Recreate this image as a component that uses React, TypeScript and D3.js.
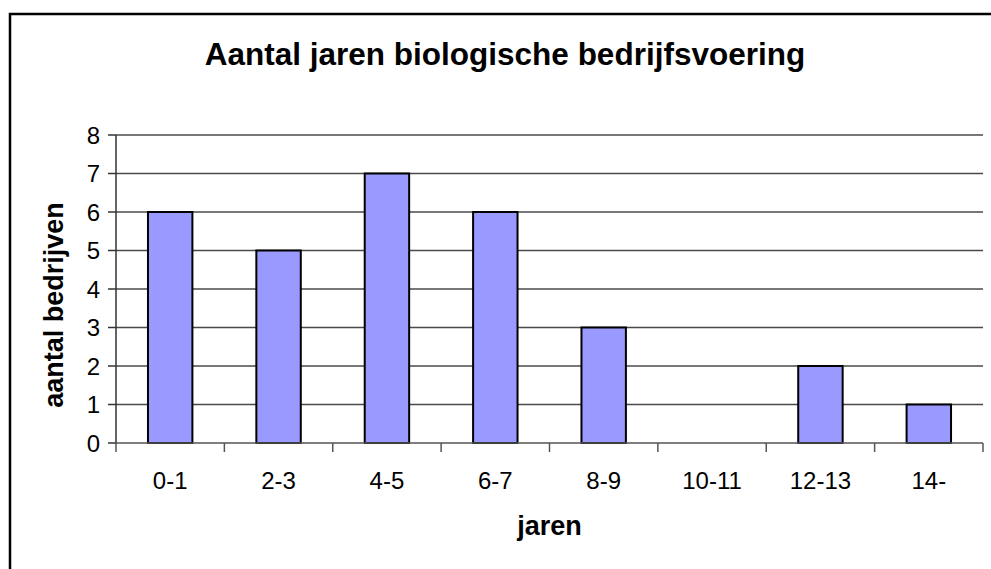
import React from 'react';
import * as d3 from 'd3';

// chart data
const categories = ['0-1', '2-3', '4-5', '6-7', '8-9', '10-11', '12-13', '14-'];
const counts = [6, 5, 7, 6, 3, 0, 2, 1];
const yTicks = [0, 1, 2, 3, 4, 5, 6, 7, 8];

const title = 'Aantal jaren biologische bedrijfsvoering';
const xTitle = 'jaren';
const yTitle = 'aantal bedrijven';

const W = 991;
const H = 569;
const margin = { left: 116, right: 8, top: 135, bottom: 126 };
const font = 'Arial, "Liberation Sans", sans-serif';

export default function App() {
  const innerW = W - margin.left - margin.right;
  const innerH = H - margin.top - margin.bottom;

  // band scale for categories, linear for counts
  const x = d3.scaleBand().domain(categories).range([0, innerW]).paddingInner(0.59).paddingOuter(0.295);
  const xEdges = d3.scaleLinear().domain([0, categories.length]).range([0, innerW]);
  const y = d3.scaleLinear().domain([0, 8]).range([innerH, 0]);

  return (
    <svg
      width={W}
      height={H}
      style={{ position: 'absolute', left: 0, top: 0, background: '#fff' }}
      fontFamily={font}
    >
      {/* outer chart border (right/bottom edges run off the picture) */}
      <rect x={10} y={14} width={W + 20} height={H + 20} fill="#fff" stroke="#000" strokeWidth={2.5} />

      <text x={505} y={65} textAnchor="middle" fontSize={31.5} fontWeight="bold">
        {title}
      </text>

      <g transform={`translate(${margin.left},${margin.top})`}>
        {/* gridlines */}
        {yTicks.slice(1).map(t => (
          <line key={t} x1={0} x2={innerW} y1={y(t)} y2={y(t)} stroke="#4a4a4a" strokeWidth={1.5} />
        ))}

        {/* bars */}
        {counts.map((v, i) => (
          <rect
            key={categories[i]}
            x={x(categories[i])}
            y={y(v)}
            width={x.bandwidth()}
            height={innerH - y(v)}
            fill="#9999FF"
            stroke="#000"
            strokeWidth={2}
          />
        ))}

        {/* y axis */}
        <line x1={0} x2={0} y1={0} y2={innerH} stroke="#333" strokeWidth={1.5} />
        {yTicks.map(t => (
          <g key={t}>
            <line x1={-8} x2={0} y1={y(t)} y2={y(t)} stroke="#333" strokeWidth={1.5} />
            <text x={-16} y={y(t)} dy="0.36em" textAnchor="end" fontSize={24}>
              {t}
            </text>
          </g>
        ))}

        {/* x axis */}
        <line x1={0} x2={innerW} y1={innerH} y2={innerH} stroke="#555" strokeWidth={1.5} />
        {d3.range(categories.length + 1).map(i => (
          <line key={i} x1={xEdges(i)} x2={xEdges(i)} y1={innerH} y2={innerH + 9} stroke="#555" strokeWidth={1.5} />
        ))}
        {categories.map(c => (
          <text key={c} x={(x(c) ?? 0) + x.bandwidth() / 2} y={innerH + 46} textAnchor="middle" fontSize={24}>
            {c}
          </text>
        ))}
      </g>

      <text x={margin.left + innerW / 2} y={535} textAnchor="middle" fontSize={27} fontWeight="bold">
        {xTitle}
      </text>
      <text
        transform={`translate(63,305) rotate(-90)`}
        textAnchor="middle"
        fontSize={27}
        fontWeight="bold"
      >
        {yTitle}
      </text>
    </svg>
  );
}
